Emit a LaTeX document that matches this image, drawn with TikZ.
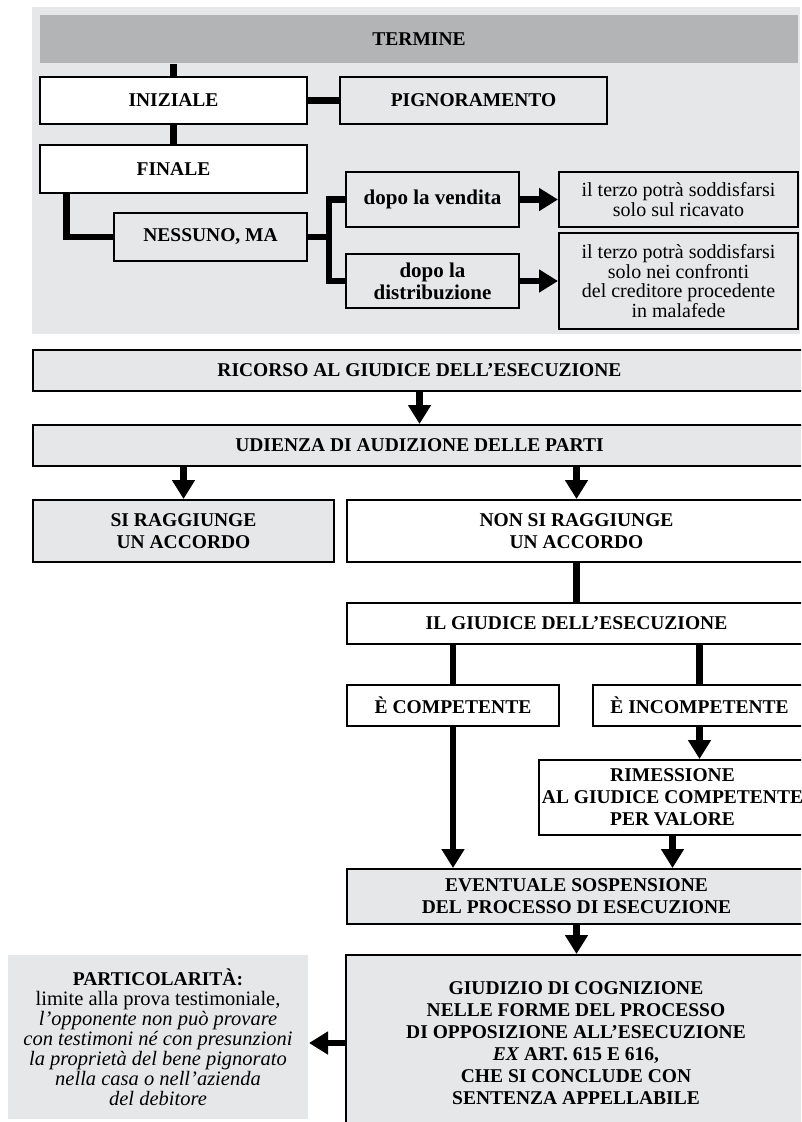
\documentclass[tikz,border=0pt]{standalone}
\usepackage{fontspec}
\setmainfont{Liberation Serif}
\usetikzlibrary{arrows.meta}

\definecolor{panelgray}{HTML}{E6E7E8}
\definecolor{bargray}{HTML}{B3B4B6}

\newcommand{\capsfont}{\fontsize{19.5}{22}\selectfont\bfseries}
\newcommand{\lowfont}{\fontsize{21}{22}\selectfont\bfseries}
\newcommand{\plainfont}{\fontsize{20}{19.5}\selectfont}
\newcommand{\notefont}{\fontsize{20.5}{20}\selectfont}

\tikzset{
    box/.style={draw, line width=2pt, anchor=north west, inner sep=0pt, align=center, font=\capsfont},
    whitebox/.style={box, fill=white},
    graybox/.style={box, fill=panelgray},
    conn/.style={line width=6.5pt},
    arr/.style={conn, -{Triangle[width=22pt,length=19pt]}}
}

\begin{document}
\begin{tikzpicture}[x=1pt, y=-1pt]
    \useasboundingbox (0,0) rectangle (801,1122);
    \clip (0,0) rectangle (801,1122);

    % Panel with the term
    \fill[panelgray] (32,7) rectangle (800,334);
    \node[box, draw=none, fill=bargray, minimum width=758pt, minimum height=48pt] (termine) at (39,14) {TERMINE};

    % Initial and final term
    \node[whitebox, minimum width=267pt, minimum height=47pt] (iniziale) at (39,76) {INIZIALE};
    \node[graybox, minimum width=267pt, minimum height=47pt] (pignoramento) at (339,76) {PIGNORAMENTO};
    \node[whitebox, minimum width=267pt, minimum height=48pt] (finale) at (39,144) {FINALE};
    \node[graybox, minimum width=193pt, minimum height=48pt] (nessuno) at (113,212) {NESSUNO, MA};

    % After the sale / the distribution
    \node[graybox, font=\lowfont, minimum width=173pt, minimum height=55pt] (vendita) at (345,171) {dopo la vendita};
    \node[graybox, font=\lowfont, minimum width=173pt, minimum height=54pt] (distrib) at (345,253) {dopo la\\distribuzione};
    \node[graybox, font=\plainfont, minimum width=239pt, minimum height=55pt] (terzo1) at (558,171) {il terzo potrà soddisfarsi\\solo sul ricavato};
    \node[graybox, font=\plainfont, minimum width=239pt, minimum height=96pt] (terzo2) at (558,232) {il terzo potrà soddisfarsi\\solo nei confronti\\del creditore procedente\\in malafede};

    \draw[conn] (iniziale.north) -- (iniziale.north |- termine.south);
    \draw[conn] (iniziale.east) -- (pignoramento.west);
    \draw[conn] (iniziale.south) -- (finale.north);
    \draw[conn] ([xshift=27.5pt]finale.south west) |- (nessuno.west);
    \path (nessuno.east) -- ++(21,0) coordinate (fork);
    \draw[conn] (nessuno.east) -- (fork);
    \draw[conn] (vendita.west) -| (fork) |- (distrib.west);
    \draw[arr] (vendita.east) -- (terzo1.west);
    \draw[arr] (distrib.east) -- (terzo2.west);

    % Procedure
    \node[graybox, minimum width=773pt, minimum height=41pt] (ricorso) at (32,349) {RICORSO AL GIUDICE DELL’ESECUZIONE};
    \node[graybox, minimum width=773pt, minimum height=41pt] (udienza) at (32,424) {UDIENZA DI AUDIZIONE DELLE PARTI};
    \node[graybox, minimum width=301pt, minimum height=62pt] (siragg) at (32,499) {SI RAGGIUNGE\\UN ACCORDO};
    \node[whitebox, minimum width=459pt, minimum height=62pt] (nonsi) at (346,499) {NON SI RAGGIUNGE\\UN ACCORDO};
    \node[whitebox, minimum width=459pt, minimum height=41pt] (giudice) at (346,602) {IL GIUDICE DELL’ESECUZIONE};
    \node[whitebox, minimum width=212pt, minimum height=41pt] (compet) at (346,684) {È COMPETENTE};
    \node[whitebox, minimum width=213pt, minimum height=41pt] (incomp) at (592,684) {È INCOMPETENTE};
    \node[whitebox, minimum width=267pt, minimum height=75pt] (rimess) at (538,759) {RIMESSIONE\\AL GIUDICE COMPETENTE\\PER VALORE};
    \node[graybox, minimum width=459pt, minimum height=55pt] (eventuale) at (346,868) {EVENTUALE SOSPENSIONE\\DEL PROCESSO DI ESECUZIONE};
    \node[graybox, minimum width=460pt, minimum height=176pt] (giudizio) at (345,954) {GIUDIZIO DI COGNIZIONE\\NELLE FORME DEL PROCESSO\\DI OPPOSIZIONE ALL’ESECUZIONE\\\textit{EX} ART. 615 E 616,\\CHE SI CONCLUDE CON\\SENTENZA APPELLABILE};
    \node[graybox, draw=none, font=\notefont, minimum width=300pt, minimum height=164pt] (partic) at (7,954) {{\capsfont PARTICOLARITÀ:}\\limite alla prova testimoniale,\\\textit{l’opponente non può provare}\\\textit{con testimoni né con presunzioni}\\\textit{la proprietà del bene pignorato}\\\textit{nella casa o nell’azienda}\\\textit{del debitore}};

    \draw[arr] (ricorso.south) -- (udienza.north);
    \draw[arr] (siragg.north |- udienza.south) -- (siragg.north);
    \draw[arr] (nonsi.north |- udienza.south) -- (nonsi.north);
    \draw[conn] (nonsi.south) -- (giudice.north);
    \draw[conn] (compet.north |- giudice.south) -- (compet.north);
    \draw[conn] (incomp.north |- giudice.south) -- (incomp.north);
    \draw[arr] (incomp.south) -- (incomp.south |- rimess.north);
    \draw[arr] (compet.south) -- (compet.south |- eventuale.north);
    \draw[arr] (rimess.south) -- (rimess.south |- eventuale.north);
    \draw[arr] (eventuale.south) -- (eventuale.south |- giudizio.north);
    \draw[arr] (giudizio.west) -- (partic.east |- giudizio.west);
\end{tikzpicture}
\end{document}
